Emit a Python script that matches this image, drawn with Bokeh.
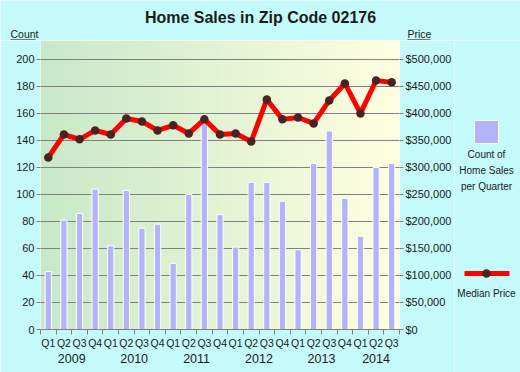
import numpy as np
from bokeh.plotting import figure
from bokeh.layouts import column, row
from bokeh.models import (Range1d, LinearAxis, FixedTicker, NumeralTickFormatter,
                          Grid, ColumnDataSource)
from bokeh.core.properties import value
from bokeh.embed import file_html
from bokeh.resources import INLINE

# ---------------- data ----------------
quarter_labels = ["Q1", "Q2", "Q3", "Q4"] * 5 + ["Q1", "Q2", "Q3"]
year_labels = ["2009", "2010", "2011", "2012", "2013", "2014"]
year_positions = [1.5, 5.5, 9.5, 13.5, 17.5, 21]
sales_count = [43, 81, 86, 104, 62, 103, 75, 78, 49, 100, 153, 85,
               61, 109, 109, 95, 59, 123, 147, 97, 69, 120, 123]
median_price = [318500, 361000, 352000, 368500, 361000, 390500, 385000, 368500,
                378000, 363000, 389000, 361000, 363000, 348000, 426000, 389000,
                392500, 381500, 424000, 455500, 400000, 461000, 457500]
count_ticks = list(range(0, 201, 20))
price_ticks = list(range(0, 500001, 50000))
title_text = "Home Sales in Zip Code 02176"
left_axis_title = "Count"
right_axis_title = "Price"
legend_bar_lines = ["Count of", "Home Sales", "per Quarter"]
legend_line_text = "Median Price"

FONT = "Liberation Sans"
TXT = "#1a1a1a"
GRID = "#808080"
BORDER = "#c5fafa"
BAR = "#b3b3fa"
DOT = "#4a2222"
DY = 4.5  # text baseline correction


def blank_fig(w, h, xr, yr):
    f = figure(width=w, height=h, output_backend="svg", toolbar_location=None,
               x_range=Range1d(*xr), y_range=Range1d(*yr),
               x_axis_location=None, y_axis_location=None,
               min_border=0, min_border_left=0, min_border_right=0,
               min_border_top=0, min_border_bottom=0, frame_align=False)
    f.border_fill_color = BORDER
    f.background_fill_color = BORDER
    f.outline_line_color = None
    for g in f.grid:
        g.visible = False
    return f


# ---------------- top strip (title + axis titles) ----------------
top = blank_fig(520, 40, (0, 520), (40, 0))
top.text(x=[260], y=[21 - DY], text=[title_text], text_align="center",
         text_baseline="alphabetic", text_font=value(FONT), text_font_size="16px",
         text_font_style="bold", text_color=TXT)
top.text(x=[10, 407], y=[37.5 - DY, 37.5 - DY], text=[left_axis_title, right_axis_title],
         text_align="left", text_baseline="alphabetic", text_font=value(FONT),
         text_font_size="10.5px", text_color=TXT)
top.segment(x0=[10, 407], y0=[39.5, 39.5], x1=[35, 430], y1=[39.5, 39.5],
            line_color="black", line_width=1)

# ---------------- main chart ----------------
idx = list(range(len(sales_count)))
src = ColumnDataSource(dict(x=idx, count=sales_count, price=median_price))

p = figure(width=454, height=332, output_backend="svg", toolbar_location=None,
           x_range=Range1d(-0.5, 22.5), y_range=Range1d(0, 214),
           min_border_left=40, min_border_right=54, min_border_top=0,
           min_border_bottom=43, x_axis_location=None, y_axis_location=None,
           frame_align=False)
p.extra_y_ranges = {"price": Range1d(0, 535000)}
p.border_fill_color = BORDER
p.outline_line_color = None
for g in p.grid:
    g.visible = False

N = 256
img = np.zeros((1, N), dtype=np.uint32)
v = img.view(dtype=np.uint8).reshape((1, N, 4))
t = np.linspace(0, 1, N)
c0 = np.array([200, 233, 200])
c1 = np.array([255, 255, 224])
for k in range(3):
    v[0, :, k] = (c0[k] + (c1[k] - c0[k]) * t).astype(np.uint8)
v[0, :, 3] = 255
p.image_rgba(image=[img], x=-0.5, y=0, dw=23, dh=214, level="image")

p.add_layout(Grid(dimension=1, ticker=FixedTicker(ticks=count_ticks),
                  grid_line_color=GRID, grid_line_width=1))

left = LinearAxis(ticker=FixedTicker(ticks=count_ticks))
left.axis_line_color = None
left.major_tick_line_color = GRID
left.major_tick_out = 4
left.major_tick_in = 0
left.minor_tick_line_color = None
left.major_label_standoff = 2
left.major_label_text_font = FONT
left.major_label_text_font_size = "11px"
left.major_label_text_color = TXT
p.add_layout(left, "left")

right = LinearAxis(y_range_name="price", ticker=FixedTicker(ticks=price_ticks),
                   formatter=NumeralTickFormatter(format="$0,0"))
right.axis_line_color = None
right.major_tick_line_color = GRID
right.major_tick_out = 4
right.major_tick_in = 0
right.minor_tick_line_color = None
right.major_label_standoff = 2
right.major_label_text_font = FONT
right.major_label_text_font_size = "11px"
right.major_label_text_color = TXT
p.add_layout(right, "right")

bottom = LinearAxis(ticker=FixedTicker(ticks=idx, minor_ticks=[i - 0.5 for i in range(24)]),
                    major_label_overrides={i: q for i, q in enumerate(quarter_labels)})
bottom.axis_line_color = GRID
bottom.major_tick_line_color = None
bottom.major_tick_out = 5
bottom.major_tick_in = 0
bottom.minor_tick_line_color = GRID
bottom.minor_tick_out = 5
bottom.minor_tick_in = 0
bottom.major_label_standoff = 2
bottom.major_label_text_font = FONT
bottom.major_label_text_font_size = "10.5px"
bottom.major_label_text_color = TXT
p.add_layout(bottom, "below")

years = LinearAxis(ticker=FixedTicker(ticks=year_positions),
                   major_label_overrides={y: l for y, l in zip(year_positions, year_labels)})
years.axis_line_color = None
years.major_tick_line_color = None
years.minor_tick_line_color = None
years.major_tick_out = 0
years.major_tick_in = 0
years.major_label_standoff = 2
years.major_label_text_font = FONT
years.major_label_text_font_size = "12.5px"
years.major_label_text_color = TXT
p.add_layout(years, "below")

p.vbar(x="x", top="count", width=0.4, source=src, fill_color=BAR,
       line_color="white", line_width=1)
p.line(x="x", y="price", source=src, y_range_name="price", line_color="#ff0000",
       line_width=5)
p.scatter(x="x", y="price", source=src, y_range_name="price", size=8.5,
          fill_color=DOT, line_color=None)

# ---------------- legend strip ----------------
leg = blank_fig(66, 332, (454, 520), (372, 40))
leg.rect(x=[486], y=[131.5], width=[24], height=[23], fill_color=BAR,
         line_color="white", line_width=1)
leg.text(x=[486, 486, 486], y=[158 - DY, 174 - DY, 190 - DY], text=legend_bar_lines,
         text_align="center", text_baseline="alphabetic", text_font=value(FONT),
         text_font_size="10px", text_color=TXT)
leg.line(x=[464, 509], y=[273, 273], line_color="#ff0000", line_width=5)
leg.scatter(x=[486], y=[273], size=8.5, fill_color=DOT, line_color=None)
leg.text(x=[486], y=[297 - DY], text=[legend_line_text], text_align="center",
         text_baseline="alphabetic", text_font=value(FONT), text_font_size="10px",
         text_color=TXT)

layout = column(top, row(p, leg, spacing=0), spacing=0)
open("out.html", "w").write(file_html(layout, INLINE))
